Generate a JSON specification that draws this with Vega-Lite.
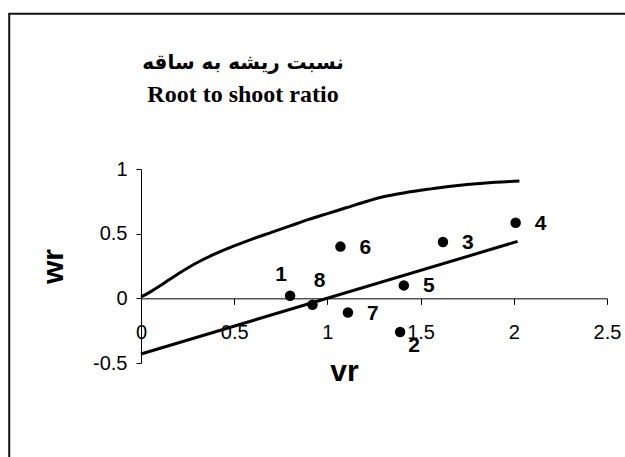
{
  "$schema": "https://vega.github.io/schema/vega-lite/v6.json",
  "usermeta": {"embedOptions": {"actions": false}},
  "width": 466,
  "height": 194,
  "autosize": {"type": "none"},
  "padding": {"left": 141, "top": 169, "right": 18, "bottom": 94},
  "background": "white",
  "config": {"view": {"stroke": null}},
  "title": {
    "text": "نسبت ریشه به ساقه",
    "subtitle": "Root to shoot ratio",
    "anchor": "middle",
    "frame": "group",
    "dx": -131,
    "offset": -94,
    "font": "DejaVu Sans",
    "fontSize": 20,
    "fontWeight": "bold",
    "color": "black",
    "subtitleFont": "Liberation Serif",
    "subtitleFontSize": 24,
    "subtitleFontWeight": "bold",
    "subtitleColor": "black",
    "subtitlePadding": 10
  },
  "datasets": {
    "curve": [
      {"vr": 0, "wr": 0.01},
      {"vr": 0.05, "wr": 0.05},
      {"vr": 0.1, "wr": 0.095},
      {"vr": 0.2, "wr": 0.19},
      {"vr": 0.3, "wr": 0.275},
      {"vr": 0.4, "wr": 0.345},
      {"vr": 0.5, "wr": 0.405},
      {"vr": 0.6, "wr": 0.46},
      {"vr": 0.7, "wr": 0.51},
      {"vr": 0.8, "wr": 0.56},
      {"vr": 0.9, "wr": 0.61},
      {"vr": 1.0, "wr": 0.655},
      {"vr": 1.1, "wr": 0.7},
      {"vr": 1.2, "wr": 0.745},
      {"vr": 1.3, "wr": 0.785},
      {"vr": 1.4, "wr": 0.813},
      {"vr": 1.5, "wr": 0.835},
      {"vr": 1.6, "wr": 0.855},
      {"vr": 1.7, "wr": 0.872},
      {"vr": 1.8, "wr": 0.886},
      {"vr": 1.9, "wr": 0.897},
      {"vr": 2.0, "wr": 0.905},
      {"vr": 2.03, "wr": 0.907}
    ],
    "fit": [
      {"vr": 0, "wr": -0.43},
      {"vr": 2.02, "wr": 0.44}
    ],
    "points": [
      {"vr": 0.8, "wr": 0.02, "label": "1"},
      {"vr": 1.39, "wr": -0.26, "label": "2"},
      {"vr": 1.62, "wr": 0.435, "label": "3"},
      {"vr": 2.01, "wr": 0.585, "label": "4"},
      {"vr": 1.41, "wr": 0.1, "label": "5"},
      {"vr": 1.07, "wr": 0.4, "label": "6"},
      {"vr": 1.11, "wr": -0.11, "label": "7"},
      {"vr": 0.92, "wr": -0.05, "label": "8"}
    ]
  },
  "layer": [
    {
      "data": {"values": [{}]},
      "mark": {"type": "rule", "stroke": "#111", "strokeWidth": 2},
      "encoding": {
        "x": {"datum": -0.707, "type": "quantitative", "scale": {"domain": [0, 2.5], "nice": false, "zero": false}},
        "y": {"datum": 2.2, "type": "quantitative", "scale": {"domain": [-0.5, 1], "nice": false, "zero": false}},
        "y2": {"datum": -2.5}
      }
    },
    {
      "data": {"values": [{}]},
      "mark": {"type": "rule", "stroke": "#111", "strokeWidth": 2},
      "encoding": {
        "x": {"datum": -0.712, "type": "quantitative"},
        "x2": {"datum": 3.0},
        "y": {"datum": 2.2, "type": "quantitative"}
      }
    },
    {
      "data": {"name": "curve"},
      "mark": {"type": "line", "color": "black", "strokeWidth": 3, "interpolate": "monotone"},
      "encoding": {
        "x": {
          "field": "vr", "type": "quantitative",
          "scale": {"domain": [0, 2.5], "nice": false, "zero": false},
          "axis": {
            "title": "vr",
            "values": [0, 0.5, 1, 1.5, 2, 2.5],
            "labelExpr": "'' + datum.value",
            "offset": -64.67,
            "grid": false,
            "domainColor": "black",
            "domainWidth": 1,
            "tickColor": "black",
            "tickSize": 6,
            "labelPadding": 18,
            "labelFont": "Liberation Sans",
            "labelFontSize": 20,
            "labelColor": "black",
            "labelFlush": false,
            "labelOverlap": false,
            "titleFont": "Liberation Sans",
            "titleFontSize": 30,
            "titleFontWeight": "bold",
            "titleColor": "black",
            "titleX": 203,
            "titleY": 82.5,
            "titleBaseline": "alphabetic",
            "titleAlign": "center"
          }
        },
        "y": {
          "field": "wr", "type": "quantitative",
          "scale": {"domain": [-0.5, 1], "nice": false, "zero": false},
          "axis": {
            "title": "wr",
            "values": [-0.5, 0, 0.5, 1],
            "labelExpr": "'' + datum.value",
            "grid": false,
            "domainColor": "black",
            "domainWidth": 1,
            "tickColor": "black",
            "tickSize": 5,
            "labelPadding": 9,
            "labelFont": "Liberation Sans",
            "labelFontSize": 20,
            "labelColor": "black",
            "labelFlush": false,
            "labelOverlap": false,
            "titleFont": "Liberation Sans",
            "titleFontSize": 30,
            "titleFontWeight": "bold",
            "titleColor": "black",
            "titleAngle": -90,
            "titleX": -79,
            "titleY": 97,
            "titleBaseline": "alphabetic",
            "titleAlign": "center"
          }
        }
      }
    },
    {
      "data": {"name": "fit"},
      "mark": {"type": "line", "color": "black", "strokeWidth": 3},
      "encoding": {
        "x": {"field": "vr", "type": "quantitative"},
        "y": {"field": "wr", "type": "quantitative"}
      }
    },
    {
      "data": {"name": "points"},
      "mark": {"type": "circle", "color": "black", "opacity": 1, "size": 110},
      "encoding": {
        "x": {"field": "vr", "type": "quantitative"},
        "y": {"field": "wr", "type": "quantitative"}
      }
    },
    {
      "data": {"name": "points"},
      "transform": [{"filter": "indexof(['3','4','5','6','7'], datum.label) >= 0"}],
      "mark": {"type": "text", "font": "Liberation Sans", "fontSize": 21, "fontWeight": "bold", "color": "black", "dx": 25, "dy": 1, "align": "center", "baseline": "middle"},
      "encoding": {
        "x": {"field": "vr", "type": "quantitative"},
        "y": {"field": "wr", "type": "quantitative"},
        "text": {"field": "label"}
      }
    },
    {
      "data": {"name": "points"},
      "transform": [{"filter": "datum.label == '1'"}],
      "mark": {"type": "text", "font": "Liberation Sans", "fontSize": 21, "fontWeight": "bold", "color": "black", "dx": -9, "dy": -21, "align": "center", "baseline": "middle"},
      "encoding": {
        "x": {"field": "vr", "type": "quantitative"},
        "y": {"field": "wr", "type": "quantitative"},
        "text": {"field": "label"}
      }
    },
    {
      "data": {"name": "points"},
      "transform": [{"filter": "datum.label == '8'"}],
      "mark": {"type": "text", "font": "Liberation Sans", "fontSize": 21, "fontWeight": "bold", "color": "black", "dx": 7, "dy": -24, "align": "center", "baseline": "middle"},
      "encoding": {
        "x": {"field": "vr", "type": "quantitative"},
        "y": {"field": "wr", "type": "quantitative"},
        "text": {"field": "label"}
      }
    },
    {
      "data": {"name": "points"},
      "transform": [{"filter": "datum.label == '2'"}],
      "mark": {"type": "text", "font": "Liberation Sans", "fontSize": 21, "fontWeight": "bold", "color": "black", "dx": 14, "dy": 14, "align": "center", "baseline": "middle"},
      "encoding": {
        "x": {"field": "vr", "type": "quantitative"},
        "y": {"field": "wr", "type": "quantitative"},
        "text": {"field": "label"}
      }
    }
  ]
}
